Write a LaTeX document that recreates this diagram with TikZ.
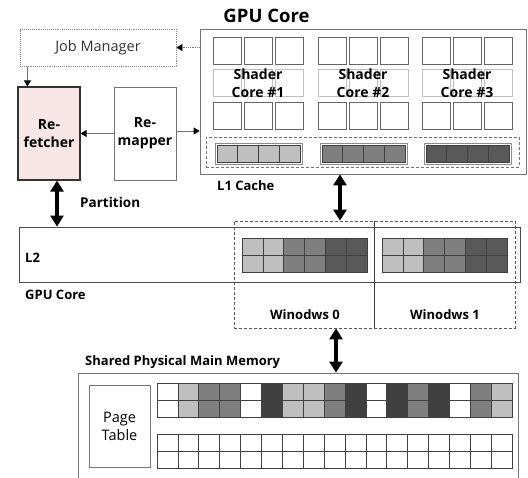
\documentclass[tikz,border=0pt]{standalone}
\usepackage{fontspec}
\setmainfont{Open Sans}
\usetikzlibrary{arrows.meta,calc}
\definecolor{cLight}{HTML}{BFBFBF}
\definecolor{cMid}{HTML}{7F7F7F}
\definecolor{cDark}{HTML}{595959}
\definecolor{cDeep}{HTML}{404040}
\definecolor{cPink}{HTML}{F8E6E6}

\begin{document}
\begin{tikzpicture}[x=1pt,y=-1pt,
  box/.style={draw=black!55, line width=0.8pt, inner sep=0pt},
  dashbox/.style={draw=black!65, densely dashed, line width=0.8pt, inner sep=0pt},
  lbl/.style={font=\bfseries\fontsize{13}{17}\selectfont, inner sep=0pt},
  biglbl/.style={font=\bfseries\fontsize{14}{18}\selectfont, inner sep=0pt},
  cell/.style={draw=black!75, line width=0.6pt},
  bigarrow/.style={{Triangle[width=13pt,length=11pt]}-{Triangle[width=13pt,length=11pt]}, line width=3.5pt},
  smallarrow/.style={-{Triangle[width=7pt,length=6pt,black]}, draw=black!55, line width=0.8pt}]
\clip (0,0) rectangle (528,478);

\node[draw=black!45, densely dotted, line width=0.9pt, minimum width=156pt, minimum height=37pt,
  font=\fontsize{14.5}{16}\selectfont, text=black!80] (jobmgr) at (98,47.5) {Job Manager};
\node[box, draw=black!80, line width=1.2pt, fill=cPink, minimum width=62pt, minimum height=93pt,
  biglbl, align=center] (refetch) at (49,133.5) {Re-\\fetcher};
\node[box, minimum width=62pt, minimum height=93pt, biglbl, align=center] (remap) at (145,133.5) {Re-\\mapper};

% GPU core with shader cores and L1
\node[box, minimum width=326pt, minimum height=145pt] (gpucore) at (363,101.5) {};
\node[font=\bfseries\fontsize{18.5}{20}\selectfont, inner sep=0pt] (gputitle) at (266.5,16) {GPU Core};
\foreach \cx/\n in {213/1,318/2,422/3} {
  \foreach \i in {0,1,2} {
    \draw[cell, draw=black!60] (\cx+\i*31,37) rectangle ++(28,27);
    \draw[cell, draw=black!25] (\cx+\i*31,69.5) rectangle ++(28,27);
    \draw[cell, draw=black!60] (\cx+\i*31,102) rectangle ++(28,27);
  }
  \node[biglbl, align=center] (sc\n) at (\cx+45,83) {Shader\\Core \#\n};
}
\node[dashbox, draw=black!55, minimum width=313pt, minimum height=30pt] (l1) at (362.5,152) {};
\foreach \cx/\col in {213/cLight,318/cMid,422/cDark} {
  \draw[draw=black!45, line width=0.6pt] (\cx+2,143) rectangle (\cx+89,164);
  \foreach \i in {0,...,3}
    \draw[cell, fill=\col] (\cx+4+\i*20.75,145) rectangle ++(20.75,17);
}
\node[lbl, anchor=west] (l1lbl) at (217,186) {L1 Cache};

% L2 and windows
\node[box, draw=black!70, minimum width=501pt, minimum height=55pt] (l2) at (269.5,254.5) {};
\node[lbl, anchor=west] (l2lbl) at (25,258) {L2};
\node[lbl, anchor=west] (gpulbl) at (25,295) {GPU Core};
\node[dashbox, minimum width=281pt, minimum height=107pt] (win) at (374.5,274.5) {};
\draw[draw=black!75, line width=0.8pt] (win.north) -- (win.south);
\foreach \wx in {242,382} {
  \foreach \col [count=\i from 0] in {cLight,cLight,cMid,cMid,cDark,cDark} {
    \draw[cell, fill=\col] (\wx+\i*20.83,238) rectangle ++(20.83,17);
    \draw[cell, fill=\col] (\wx+\i*20.83,255) rectangle ++(20.83,17);
  }
}
\node[lbl] (win0) at (305,315) {Winodws 0};
\node[lbl] (win1) at (445,315) {Winodws 1};
\node[lbl, font=\bfseries\fontsize{13.5}{17}\selectfont, anchor=west] (partlbl) at (80,202) {Partition};

% main memory
\node[lbl, anchor=west] (memlbl) at (85,362) {Shared Physical Main Memory};
\node[box, minimum width=440pt, minimum height=117pt] (mem) at (298,431.5) {};
\node[box, minimum width=61pt, minimum height=82pt, align=center,
  font=\fontsize{14.5}{18}\selectfont] (ptable) at (119.5,426) {Page\\Table};
\foreach \col [count=\i from 0] in {white,cLight,cMid,cMid,white,cDeep,cLight,cLight,cMid,cDeep,white,cDeep,cMid,cDeep,white,cMid,cLight} {
  \draw[cell, fill=\col] (157+\i*20.88,383) rectangle ++(20.88,17);
  \draw[cell, fill=\col] (157+\i*20.88,400) rectangle ++(20.88,17);
  \draw[cell] (157+\i*20.88,434) rectangle ++(20.88,17);
  \draw[cell] (157+\i*20.88,451) rectangle ++(20.88,17);
}

% connectors
\coordinate (upx) at (340,0);
\coordinate (lowx) at (336,0);
\draw[smallarrow, densely dotted] (gpucore.west |- jobmgr.east) -- (jobmgr.east);
\draw[smallarrow] ([xshift=8pt]jobmgr.south west) -- ([xshift=10pt]refetch.north west);
\draw[smallarrow] (remap.west) -- (refetch.east);
\draw[smallarrow] ([yshift=2.5pt]remap.east) -- ([yshift=2.5pt]remap.east -| gpucore.west);
\draw[bigarrow] ([xshift=8pt]refetch.south) -- ([xshift=8pt]refetch.south |- l2.north);
\draw[bigarrow] (upx |- gpucore.south) -- (upx |- win.north);
\draw[bigarrow] (lowx |- win.south) -- (lowx |- mem.north);
\end{tikzpicture}
\end{document}
